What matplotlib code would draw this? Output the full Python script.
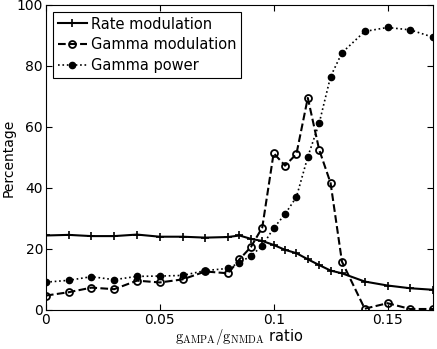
import matplotlib
matplotlib.use("Agg")
import matplotlib.pyplot as plt

ratio = [0, 0.01, 0.02, 0.03, 0.04, 0.05, 0.06, 0.07, 0.08, 0.085, 0.09, 0.095,
         0.1, 0.105, 0.11, 0.115, 0.12, 0.125, 0.13, 0.14, 0.15, 0.16, 0.17]
rate_mod = [24.4, 24.6, 24.2, 24.2, 24.7, 24.0, 24.0, 23.7, 23.9, 24.4, 23.3, 22.6,
            21.3, 19.7, 18.6, 16.6, 14.7, 12.9, 12.0, 9.3, 8.0, 7.1, 6.6]
gamma_mod = [4.7, 5.8, 7.3, 6.8, 9.6, 9.0, 10.0, 12.6, 12.0, 16.6, 20.6, 27.0,
             51.4, 47.3, 51.1, 69.5, 52.5, 41.6, 15.8, 0.4, 2.2, 0.3, 0.3]
gamma_pow = [9.1, 9.7, 10.9, 9.9, 11.0, 11.1, 11.3, 12.9, 13.6, 15.5, 17.7, 21.0,
             26.8, 31.4, 37.0, 50.2, 61.2, 76.5, 84.3, 91.3, 92.6, 91.8, 89.4]

xticks = [0, 0.05, 0.1, 0.15]
xticklabels = ["0", "0.05", "0.1", "0.15"]
yticks = [0, 20, 40, 60, 80, 100]

plt.rcParams['mathtext.fontset'] = 'cm'
fig = plt.figure(figsize=(4.37, 3.49), dpi=100)
ax = fig.add_axes([0.105, 0.112, 0.886, 0.874])

ax.plot(ratio, rate_mod, '-', color='black', lw=1.5, marker='+', ms=6, mew=1.2,
        label='Rate modulation')
ax.plot(ratio, gamma_mod, '--', color='black', lw=1.5, marker='o', ms=5,
        mfc='none', mew=1.3, label='Gamma modulation')
ax.plot(ratio, gamma_pow, ':', color='black', lw=1.2, marker='o', ms=4.5,
        mfc='black', label='Gamma power')

ax.set_xlim(0, 0.17)
ax.set_ylim(0, 100)
ax.set_xticks(xticks)
ax.set_xticklabels(xticklabels)
ax.set_yticks(yticks)
ax.tick_params(direction='in', top=True, right=True, labelsize=10, length=4, pad=2)
for s in ax.spines.values():
    s.set_linewidth(0.8)
ax.set_ylabel('Percentage', fontsize=10, labelpad=1)
ax.set_xlabel(r'$\mathrm{g}_{\mathrm{AMPA}}/\mathrm{g}_{\mathrm{NMDA}}$ ratio',
              fontsize=10.5, labelpad=0)
leg = ax.legend(loc='upper left', fontsize=10.5, handlelength=2.0, handletextpad=0.3,
                borderpad=0.3, labelspacing=0.4, fancybox=False, framealpha=1,
                edgecolor='black', borderaxespad=0.5)
leg.get_frame().set_linewidth(0.8)

fig.savefig('out.png', dpi=100)
